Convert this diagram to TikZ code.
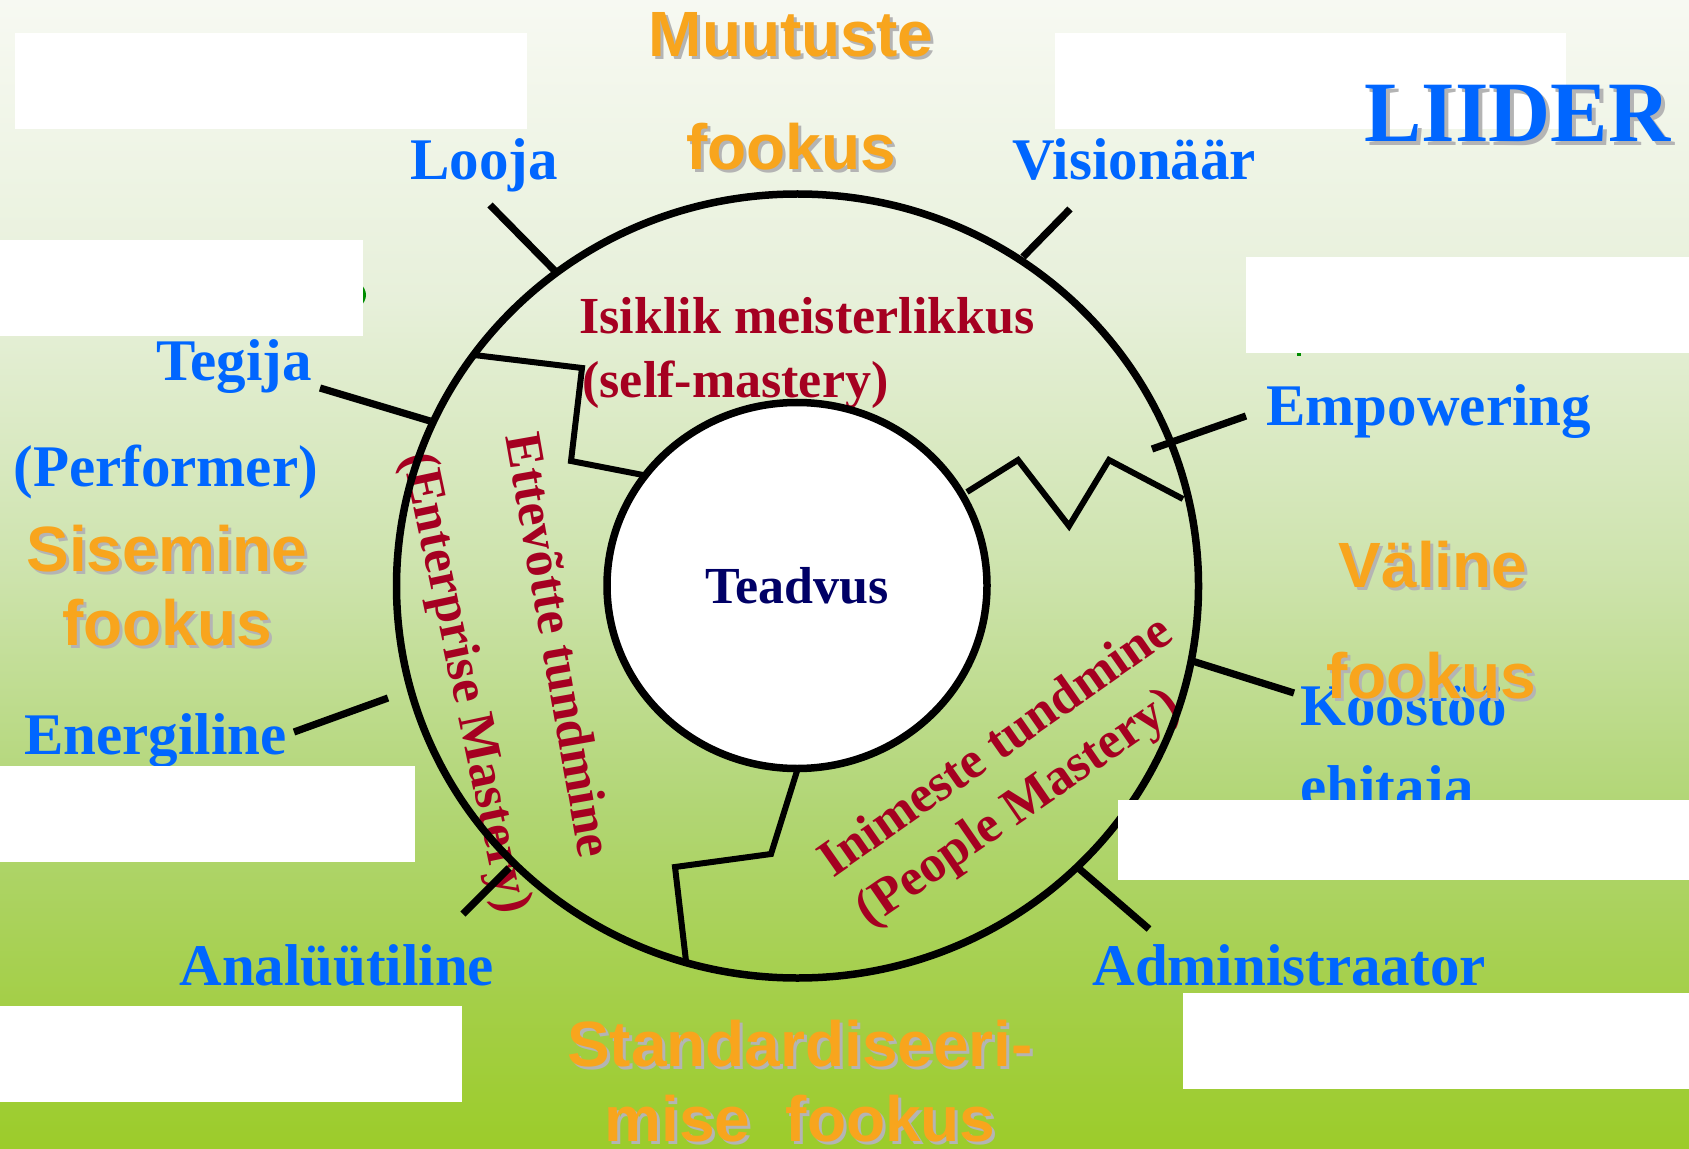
\documentclass[tikz,border=0pt]{standalone}
\usepackage{fontspec}
\setmainfont{Liberation Serif}
\setsansfont{Liberation Sans}
\usetikzlibrary{shapes.geometric}
\definecolor{lblue}{HTML}{0066FF}
\definecolor{dred}{HTML}{A50021}
\definecolor{navy}{HTML}{000066}
\definecolor{orng}{HTML}{F8A51D}
\definecolor{shd}{HTML}{B4B4B4}
\definecolor{bgA}{RGB}{247,249,242}
\definecolor{bgB}{RGB}{231,240,218}
\definecolor{bgC}{RGB}{205,227,172}
\definecolor{bgD}{RGB}{178,214,118}
\definecolor{bgE}{RGB}{164,207,72}
\definecolor{bgF}{RGB}{156,204,42}
\definecolor{frag}{RGB}{0,140,0}
\tikzset{
  role/.style={inner sep=0pt, anchor=base west, text=lblue, font=\bfseries\fontsize{29.5}{35}\selectfont},
  mastery/.style={inner sep=0pt, text=dred, font=\bfseries\fontsize{26}{31}\selectfont},
  focus/.style={inner sep=0pt, anchor=base, text=orng, font=\sffamily\bfseries\fontsize{32}{38}\selectfont},
  focusshadow/.style={focus, text=shd},
  ring/.style={draw=black, line width=3.75pt, ellipse, inner sep=0pt, outer sep=0pt},
  divider/.style={line width=3pt, line join=miter},
  spoke/.style={line width=3.6pt},
  mask/.style={fill=white, draw=none},
}
\newcommand{\focuslabel}[4]{%
  \node[focusshadow] (#1s) at ({#2+3},{#3+3}) {#4};
  \node[focus] (#1) at (#2,#3) {#4};
}
\begin{document}
\begin{tikzpicture}[x=0.5pt,y=-0.5pt]
\useasboundingbox (0,0) rectangle (1689,1149);
% background gradient
\shade[top color=bgA,bottom color=bgB] (0,0) rectangle (1689,301);
\shade[top color=bgB,bottom color=bgC] (0,300) rectangle (1689,576);
\shade[top color=bgC,bottom color=bgD] (0,575) rectangle (1689,801);
\shade[top color=bgD,bottom color=bgE] (0,800) rectangle (1689,1001);
\shade[top color=bgE,bottom color=bgF] (0,1000) rectangle (1689,1149);

% mastery texts
\node[mastery, anchor=base west] (isik) at (579,334) {Isiklik meisterlikkus};
\node[mastery, anchor=base west] (selfm) at (582,398) {(self-mastery)};
\node[mastery, rotate=-80] (ettev) at (560,645) {Ettevõtte tundmine};
\node[mastery, rotate=-78] (enter) at (464,683) {(Enterprise Mastery)};
\node[mastery, rotate=35] (inim) at (994,744) {Inimeste tundmine};
\node[mastery, rotate=34.6] (people) at (1019,809) {(People Mastery)};

% circles
\node[ring, fill=white, minimum width=190pt, minimum height=183pt,
      text=navy, font=\bfseries\fontsize{26}{31}\selectfont] (core) at (797,585.5) {Teadvus};
\node[ring, minimum width=401pt, minimum height=392pt] (wheel) at (797.5,586) {};

% dividers
\draw[divider] (474,355) -- (582,368) -- (571,461) -- (643,475);
\draw[divider] (967,492) -- (1018,460) -- (1069,526) -- (1109,460) -- (1183,499);
\draw[divider] (797,771) -- (771,854) -- (675,867) -- (686,961);

% spokes
\coordinate (sLa) at (490,205);  \coordinate (sLb) at (555,271);
\coordinate (sVa) at (1070,209); \coordinate (sVb) at (1023,257);
\coordinate (sTa) at (320,388);  \coordinate (sTb) at (430,421);
\coordinate (sEa) at (1246,416); \coordinate (sEb) at (1152,449);
\coordinate (sNa) at (294,732);  \coordinate (sNb) at (388,698);
\coordinate (sAa) at (463,914);  \coordinate (sAb) at (509,868);
\coordinate (sKa) at (1294,693); \coordinate (sKb) at (1189,660);
\coordinate (sDa) at (1149,929); \coordinate (sDb) at (1076,866);
\foreach \p in {L,V,T,E,N,A,K,D} \draw[spoke] (s\p a) -- (s\p b);

% role labels
\node[role] (looja) at (410,180) {Looja};
\node[role] (vision) at (1012,180) {Visionäär};
\node[role] (tegija) at (156,381) {Tegija};
\node[role] (perf) at (13,486) {(Performer)};
\node[role] (empow) at (1266,425) {Empowering};
\node[role] (energ) at (24,754) {Energiline};
\node[role] (anal) at (179,985) {Analüütiline};
\node[role] (koost) at (1300,725) {Koostöö};
\node[role] (ehit) at (1300,806) {ehitaja};
\node[role] (admin) at (1092,985) {Administraator};

% focus labels
\focuslabel{muut}{791}{57}{Muutuste}
\focuslabel{muutf}{791}{170}{fookus}
\focuslabel{sise}{167}{571}{Sisemine}
\focuslabel{sisef}{167}{645}{fookus}
\focuslabel{vali}{1433}{587}{Väline}
\focuslabel{valif}{1431}{698}{fookus}
\focuslabel{stand}{800}{1066}{Standardiseeri-}
\focuslabel{standf}{800}{1141}{mise\ \ fookus}

% small green fragments peeking out
\fill[frag] (360,283) .. controls (368,291) and (368,299) .. (360,307) -- cycle;
\fill[frag] (1297,351) rectangle (1301,356);

% white masks
\fill[mask] (15,33) rectangle (527,129);
\fill[mask] (1055,33) rectangle (1566,129);
\fill[mask] (0,240) rectangle (363,336);
\fill[mask] (1246,257) rectangle (1689,353);
\fill[mask] (0,766) rectangle (415,862);
\fill[mask] (1118,800) rectangle (1689,880);
\fill[mask] (0,1006) rectangle (462,1102);
\fill[mask] (1183,993) rectangle (1689,1089);

% title
\node[inner sep=0pt, anchor=base west, text=shd, font=\bfseries\fontsize{43}{50}\selectfont] (liiders) at (1368,146) {LIIDER};
\node[inner sep=0pt, anchor=base west, text=lblue, font=\bfseries\fontsize{43}{50}\selectfont] (liider) at (1364,142) {LIIDER};
\end{tikzpicture}
\end{document}
